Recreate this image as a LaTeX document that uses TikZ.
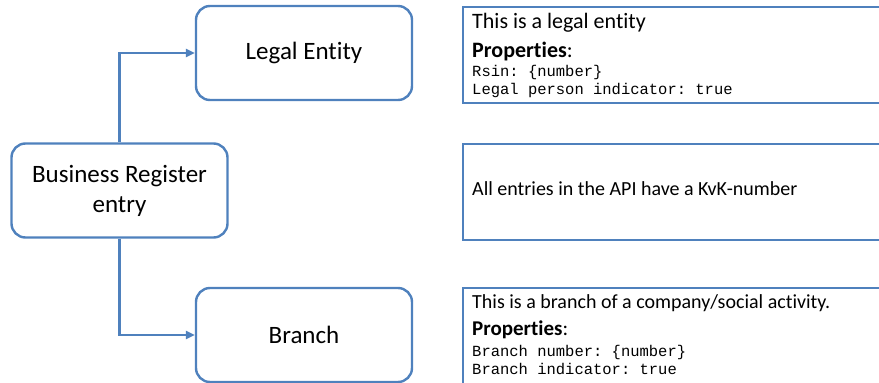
\documentclass[tikz,border=0pt]{standalone}
\usepackage{fontspec}
\setmainfont{Carlito}[Ligatures={CommonOff,ContextualOff},RawFeature={-liga,-clig,-calt}]
\setmonofont{Liberation Mono}
\usetikzlibrary{arrows.meta}
\definecolor{boxblue}{HTML}{4F81BD}
\tikzset{
  entitybox/.style={draw=boxblue, line width=2.4pt, rounded corners=14pt, minimum width=216pt, minimum height=94pt, align=center, font=\fontsize{25}{30}\selectfont},
  infobox/.style={draw=boxblue, line width=2.2pt, minimum width=460pt, anchor=north west, inner sep=0pt},
  infotext/.style={anchor=base west, inner sep=0pt, font=\fontsize{20}{24}\selectfont},
  proptext/.style={anchor=base west, inner sep=0pt, font=\fontsize{21}{24}\selectfont},
  codetext/.style={anchor=base west, inner sep=0pt, font=\fontsize{15.5}{18}\ttfamily},
  link/.style={draw=boxblue, line width=2.4pt, -{Triangle[length=9pt,width=8pt]}}
}

\begin{document}
\begin{tikzpicture}[x=1pt,y=-1pt]
\useasboundingbox (0,0) rectangle (879,383);
\clip (0,0) rectangle (879,383);

% entity boxes
\node[entitybox] (bre) at (119.5,190.5) {Business Register\\entry};
\node[entitybox] (legal) at (304,53) {Legal Entity};
\node[entitybox] (branch) at (304,335) {Branch};

\draw[link] (bre.north) |- (legal.west);
\draw[link] (bre.south) |- (branch.west);

% description boxes
\node[infobox, minimum height=96pt] (legalinfo) at (462,6) {};
\node[infotext, font=\fontsize{22}{26}\selectfont] (legaldesc) at (472,28) {This is a legal entity};
\node[proptext, font=\fontsize{22}{26}\selectfont] (legalprop) at (472,57) {\textbf{Properties}:};
\node[codetext] (legalrsin) at (472,76) {Rsin: \{number\}};
\node[codetext] (legalind) at (472,94) {Legal person indicator: true};

\node[infobox, minimum height=96pt] (apiinfo) at (462,143) {};
\node[infotext] (apidesc) at (472,195) {All entries in the API have a KvK-number};

\node[infobox, minimum height=110pt] (branchinfo) at (462,287) {};
\node[infotext] (branchdesc) at (472,308) {This is a branch of a company/social activity.};
\node[proptext] (branchprop) at (472,335) {\textbf{Properties}:};
\node[codetext] (branchnum) at (472,356) {Branch number: \{number\}};
\node[codetext] (branchind) at (472,374) {Branch indicator: true};

\end{tikzpicture}
\end{document}
